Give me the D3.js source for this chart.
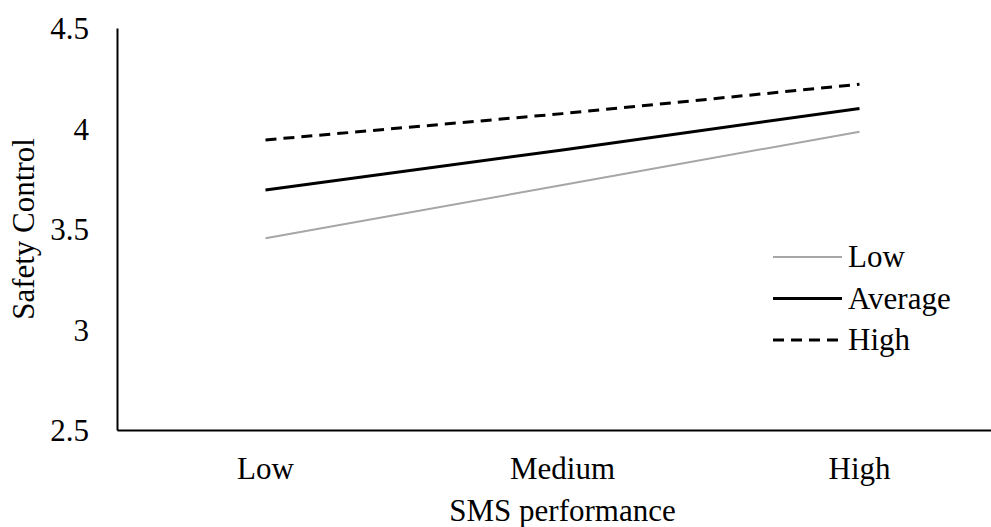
<!DOCTYPE html>
<html><head><meta charset="utf-8">
<script src="https://cdn.jsdelivr.net/npm/d3@7"></script>
<style>body{margin:0;background:#fff}svg{display:block}</style>
</head><body><svg id="c" width="991" height="527"></svg>
<script>
const categories = ["Low", "Medium", "High"];
const seriesNames = ["Low", "Average", "High"];
const lowValues = [3.454, 3.719, 3.984];
const averageValues = [3.694, 3.893, 4.100];
const highValues = [3.943, 4.074, 4.220];
const yTicks = [2.5, 3, 3.5, 4, 4.5];

const seriesValues = [lowValues, averageValues, highValues];
const styles = [
  {stroke:"#a6a6a6", width:2, dash:null},
  {stroke:"#000", width:3, dash:null},
  {stroke:"#000", width:3, dash:"11,7"}
];
const FONT = "'Liberation Serif', 'Times New Roman', Tinos, 'DejaVu Serif', serif";

const svg = d3.select("#c");
const mLeft = 117, mRight = 1008, mTop = 28, mBottom = 430;
const x = d3.scaleBand().domain(categories).range([mLeft, mRight]).padding(0);
const y = d3.scaleLinear().domain([2.5, 4.5]).range([mBottom, mTop]);
const fs = 31;

// y axis
const ya = svg.append("g").attr("transform", `translate(${mLeft},0)`)
  .call(d3.axisLeft(y).tickValues(yTicks).tickSize(0).tickPadding(28).tickFormat(d => d3.format("")(d)));
ya.attr("font-family", FONT).attr("font-size", fs);
ya.select(".domain").attr("stroke", "#000").attr("stroke-width", 2);
ya.selectAll("text").attr("fill", "#000").attr("dy", "0.34em");

// x axis
const xa = svg.append("g").attr("transform", `translate(0,${mBottom})`)
  .call(d3.axisBottom(x).tickSize(0).tickPadding(27));
xa.attr("font-family", FONT).attr("font-size", fs);
xa.select(".domain").attr("stroke", "#000").attr("stroke-width", 2);
xa.selectAll("text").attr("fill", "#000").attr("dy", "0.71em");

// axis titles
svg.append("text").attr("x", (mLeft + mRight) / 2).attr("y", 521).attr("text-anchor", "middle")
  .attr("font-family", FONT).attr("font-size", fs).text("SMS performance");
svg.append("text").attr("transform", `translate(34,${(mTop + mBottom) / 2}) rotate(-90)`).attr("text-anchor", "middle")
  .attr("font-family", FONT).attr("font-size", fs).text("Safety Control");

// lines
const line = d3.line().x((d, i) => x(categories[i]) + x.bandwidth() / 2).y(d => y(d));
seriesValues.forEach((vals, k) => {
  svg.append("path").datum(vals).attr("d", line).attr("fill", "none")
    .attr("stroke", styles[k].stroke).attr("stroke-width", styles[k].width)
    .attr("stroke-dasharray", styles[k].dash);
});

// legend
const lg = svg.append("g");
seriesNames.forEach((name, k) => {
  const yy = 257 + k * 41.5;
  lg.append("line").attr("x1", 773).attr("x2", 842).attr("y1", yy).attr("y2", yy)
    .attr("stroke", styles[k].stroke).attr("stroke-width", styles[k].width)
    .attr("stroke-dasharray", styles[k].dash);
  lg.append("text").attr("x", 848).attr("y", yy + 10)
    .attr("font-family", FONT).attr("font-size", fs).text(name);
});
</script></body></html>
